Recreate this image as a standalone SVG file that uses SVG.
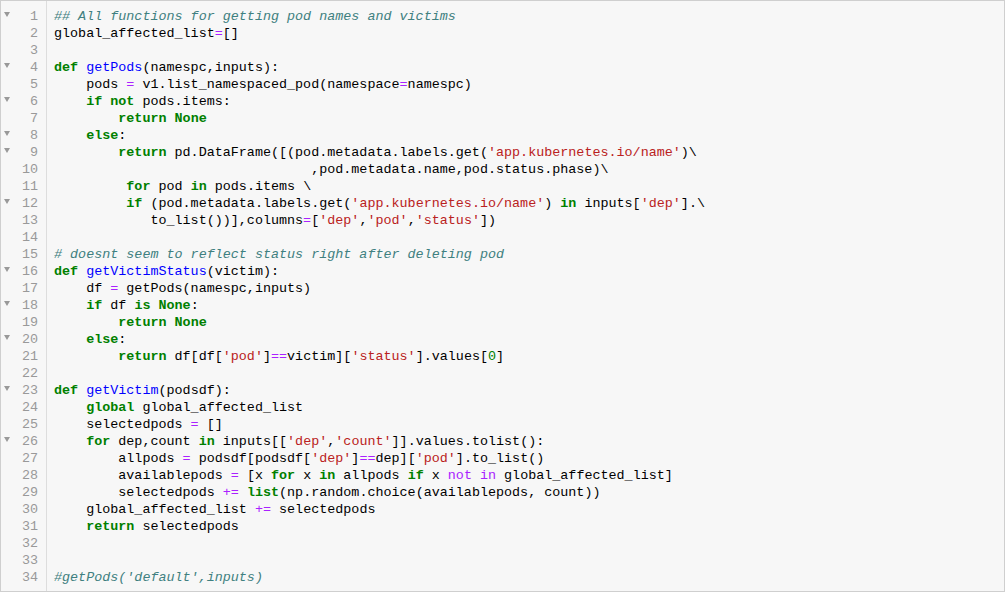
<svg xmlns="http://www.w3.org/2000/svg" width="1008" height="593" viewBox="0 0 1008 593">
<style>
.c{font-family:"Liberation Mono",monospace;font-size:13.4px;fill:#000;white-space:pre}
.n{font-family:"Liberation Mono",monospace;font-size:13.4px;fill:#999;text-anchor:end}
.cm{fill:#408080;font-style:italic}
.k{fill:#008000;font-weight:bold}
.f{fill:#0000ff}
.s{fill:#ba2121}
.o{fill:#aa22ff}
.m{fill:#008000}
.t{fill:#999}
</style>
<rect x="0" y="0" width="1008" height="593" fill="#ffffff"/>
<rect x="0.5" y="0.5" width="1004" height="591" fill="#f7f7f7" stroke="#cfcfcf"/>
<line x1="46.5" y1="1" x2="46.5" y2="591" stroke="#ddd"/>
<g id="gutter">
<g class="t"><path d="M4 12h6l-3 5z"/><path d="M4 63h6l-3 5z"/><path d="M4 97h6l-3 5z"/><path d="M4 131h6l-3 5z"/><path d="M4 148h6l-3 5z"/><path d="M4 199h6l-3 5z"/><path d="M4 267h6l-3 5z"/><path d="M4 301h6l-3 5z"/><path d="M4 335h6l-3 5z"/><path d="M4 386h6l-3 5z"/><path d="M4 437h6l-3 5z"/></g>
<text class="n" x="38" y="20">1</text><text class="n" x="38" y="37">2</text><text class="n" x="38" y="54">3</text><text class="n" x="38" y="71">4</text><text class="n" x="38" y="88">5</text><text class="n" x="38" y="105">6</text><text class="n" x="38" y="122">7</text><text class="n" x="38" y="139">8</text><text class="n" x="38" y="156">9</text><text class="n" x="38" y="173">10</text><text class="n" x="38" y="190">11</text><text class="n" x="38" y="207">12</text><text class="n" x="38" y="224">13</text><text class="n" x="38" y="241">14</text><text class="n" x="38" y="258">15</text><text class="n" x="38" y="275">16</text><text class="n" x="38" y="292">17</text><text class="n" x="38" y="309">18</text><text class="n" x="38" y="326">19</text><text class="n" x="38" y="343">20</text><text class="n" x="38" y="360">21</text><text class="n" x="38" y="377">22</text><text class="n" x="38" y="394">23</text><text class="n" x="38" y="411">24</text><text class="n" x="38" y="428">25</text><text class="n" x="38" y="445">26</text><text class="n" x="38" y="462">27</text><text class="n" x="38" y="479">28</text><text class="n" x="38" y="496">29</text><text class="n" x="38" y="513">30</text><text class="n" x="38" y="530">31</text><text class="n" x="38" y="547">32</text><text class="n" x="38" y="564">33</text><text class="n" x="38" y="581">34</text>
</g>
<g id="code" xml:space="preserve">
<text class="c" x="54" y="20"><tspan class="cm">## All functions for getting pod names and victims</tspan></text>
<text class="c" x="54" y="37">global_affected_list<tspan class="o">=</tspan>[]</text>
<text class="c" x="54" y="71"><tspan class="k">def</tspan> <tspan class="f">getPods</tspan>(namespc,inputs):</text>
<text class="c" x="54" y="88">    pods <tspan class="o">=</tspan> v1.list_namespaced_pod(namespace<tspan class="o">=</tspan>namespc)</text>
<text class="c" x="54" y="105">    <tspan class="k">if</tspan> <tspan class="k">not</tspan> pods.items:</text>
<text class="c" x="54" y="122">        <tspan class="k">return</tspan> <tspan class="k">None</tspan></text>
<text class="c" x="54" y="139">    <tspan class="k">else</tspan>:</text>
<text class="c" x="54" y="156">        <tspan class="k">return</tspan> pd.DataFrame([(pod.metadata.labels.get(<tspan class="s">'app.kubernetes.io/name'</tspan>)\</text>
<text class="c" x="54" y="173">                                ,pod.metadata.name,pod.status.phase)\</text>
<text class="c" x="54" y="190">         <tspan class="k">for</tspan> pod <tspan class="k">in</tspan> pods.items \</text>
<text class="c" x="54" y="207">         <tspan class="k">if</tspan> (pod.metadata.labels.get(<tspan class="s">'app.kubernetes.io/name'</tspan>) <tspan class="k">in</tspan> inputs[<tspan class="s">'dep'</tspan>].\</text>
<text class="c" x="54" y="224">            to_list())],columns<tspan class="o">=</tspan>[<tspan class="s">'dep'</tspan>,<tspan class="s">'pod'</tspan>,<tspan class="s">'status'</tspan>])</text>
<text class="c" x="54" y="258"><tspan class="cm"># doesnt seem to reflect status right after deleting pod</tspan></text>
<text class="c" x="54" y="275"><tspan class="k">def</tspan> <tspan class="f">getVictimStatus</tspan>(victim):</text>
<text class="c" x="54" y="292">    df <tspan class="o">=</tspan> getPods(namespc,inputs)</text>
<text class="c" x="54" y="309">    <tspan class="k">if</tspan> df <tspan class="k">is</tspan> <tspan class="k">None</tspan>:</text>
<text class="c" x="54" y="326">        <tspan class="k">return</tspan> <tspan class="k">None</tspan></text>
<text class="c" x="54" y="343">    <tspan class="k">else</tspan>:</text>
<text class="c" x="54" y="360">        <tspan class="k">return</tspan> df[df[<tspan class="s">'pod'</tspan>]<tspan class="o">==</tspan>victim][<tspan class="s">'status'</tspan>].values[<tspan class="m">0</tspan>]</text>
<text class="c" x="54" y="394"><tspan class="k">def</tspan> <tspan class="f">getVictim</tspan>(podsdf):</text>
<text class="c" x="54" y="411">    <tspan class="k">global</tspan> global_affected_list</text>
<text class="c" x="54" y="428">    selectedpods <tspan class="o">=</tspan> []</text>
<text class="c" x="54" y="445">    <tspan class="k">for</tspan> dep,count <tspan class="k">in</tspan> inputs[[<tspan class="s">'dep'</tspan>,<tspan class="s">'count'</tspan>]].values.tolist():</text>
<text class="c" x="54" y="462">        allpods <tspan class="o">=</tspan> podsdf[podsdf[<tspan class="s">'dep'</tspan>]<tspan class="o">==</tspan>dep][<tspan class="s">'pod'</tspan>].to_list()</text>
<text class="c" x="54" y="479">        availablepods <tspan class="o">=</tspan> [x <tspan class="k">for</tspan> x <tspan class="k">in</tspan> allpods <tspan class="k">if</tspan> x <tspan class="o">not</tspan> <tspan class="o">in</tspan> global_affected_list]</text>
<text class="c" x="54" y="496">        selectedpods <tspan class="o">+=</tspan> <tspan class="k">list</tspan>(np.random.choice(availablepods, count))</text>
<text class="c" x="54" y="513">    global_affected_list <tspan class="o">+=</tspan> selectedpods</text>
<text class="c" x="54" y="530">    <tspan class="k">return</tspan> selectedpods</text>
<text class="c" x="54" y="581"><tspan class="cm">#getPods('default',inputs)</tspan></text>
</g>
</svg>
